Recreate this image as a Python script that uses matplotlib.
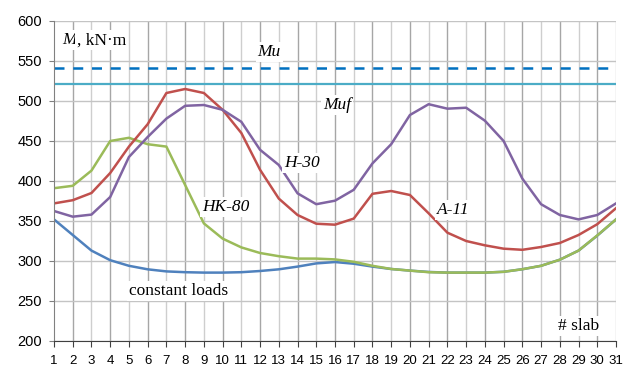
"""Bending moment per slab for several load cases, with capacity lines."""

import matplotlib

matplotlib.use("Agg")

import matplotlib.pyplot as plt  # noqa: E402

slabs = list(range(1, 32))

constant_loads = [352, 332.5, 313, 301, 294, 289.6, 287, 286, 285.5, 285.5, 286, 287.5,
                  289.6, 293, 297, 298.7, 296.6, 293, 290, 288, 286.3, 285.5, 285.5, 285.5,
                  286.5, 289.7, 294, 301.6, 313, 331.7, 352]
hk80 = [391, 394, 413, 450, 454, 446, 443, 395, 347, 328, 317, 310, 306, 303, 303,
        302, 299, 294, 290, 288, 286, 285.5, 285.5, 285.5, 286.5, 289.7, 294, 301.6,
        313, 332, 352]
a11 = [372, 376, 385, 410, 443, 471, 510, 515, 510, 489, 460, 414, 378, 357.5, 346.6,
       345.4, 353, 384, 387.5, 382.5, 359.6, 335.4, 325, 319.6, 315.4, 314, 317.5,
       322.5, 332.5, 346, 366]
h30 = [362.5, 355.4, 358, 380, 430, 455, 478, 494, 495, 489, 474, 439, 420, 384.6,
       371, 375.4, 389, 422, 446, 482.5, 496, 490.4, 491.6, 475.4, 450, 403, 371,
       357.5, 352, 357.5, 372]
mu = 541
muf = 521

SERIF = ["Liberation Serif", "DejaVu Serif"]
BOX = dict(facecolor="white", edgecolor="none", pad=1.5)

fig = plt.figure(figsize=(6.23, 3.67), dpi=100)
ax = fig.add_axes([54 / 623, 1 - 341 / 367, (616 - 54) / 623, (341 - 21) / 367])

ax.set_xlim(1, 31)
ax.set_ylim(200, 600)
ax.set_xticks(slabs)
ax.set_yticks(range(200, 601, 50))
ax.grid(True, axis="y", color="#c4c4c4", lw=1.0)
# vertical grid alternates darker / lighter like the original
for s in slabs[1:]:
    ax.axvline(s, color="#a6a6a6" if s % 2 == 0 else "#cecece", lw=1.0, zorder=0.5)
ax.set_axisbelow(True)
for side in ("top", "right"):
    ax.spines[side].set_visible(False)
ax.spines["left"].set_color("#808080")
ax.spines["bottom"].set_color("#404040")
ax.tick_params(axis="x", length=4, color="#404040", labelsize=9.5, pad=6)
ax.tick_params(axis="y", length=3.6, color="#808080", labelsize=10.5, pad=5)
for lab in ax.get_xticklabels() + ax.get_yticklabels():
    lab.set_family(["Liberation Sans", "DejaVu Sans"])

ax.axhline(mu, color="#0070c0", lw=1.8, ls=(0, (4, 3.5)))
ax.axhline(muf, color="#4bacc6", lw=1.6)
ax.plot(slabs, constant_loads, color="#4f81bd", lw=1.8)
ax.plot(slabs, hk80, color="#9bbb59", lw=1.8)
ax.plot(slabs, a11, color="#c0504d", lw=1.8)
ax.plot(slabs, h30, color="#8064a2", lw=1.8)

m_label = ax.text(1.45, 576, "M", family=SERIF, style="italic", fontsize=12.5,
                  va="center", bbox=BOX)
ax.annotate(", kN·m", xy=(1, 0.5), xycoords=m_label, family=SERIF, fontsize=12.5,
            va="center", bbox=BOX)
ax.text(11.87, 561, "Mu", family=SERIF, style="italic", fontsize=12.5, va="center", bbox=BOX)
ax.text(15.35, 495, "Muf", family=SERIF, style="italic", fontsize=12.5, va="center", bbox=BOX)
ax.text(13.3, 423, "H-30", family=SERIF, style="italic", fontsize=12.5, va="center", bbox=BOX)
ax.text(8.9, 368, "HK-80", family=SERIF, style="italic", fontsize=12.5, va="center", bbox=BOX)
ax.text(21.45, 363.5, "A-11", family=SERIF, style="italic", fontsize=12.5, va="center", bbox=BOX)
ax.text(5.0, 262, "constant loads", family=SERIF, fontsize=12.5, va="center", bbox=BOX)
ax.text(27.9, 219, "# slab", family=SERIF, fontsize=12.5, va="center", bbox=BOX)

fig.savefig("out.png", dpi=100)
plt.close(fig)
